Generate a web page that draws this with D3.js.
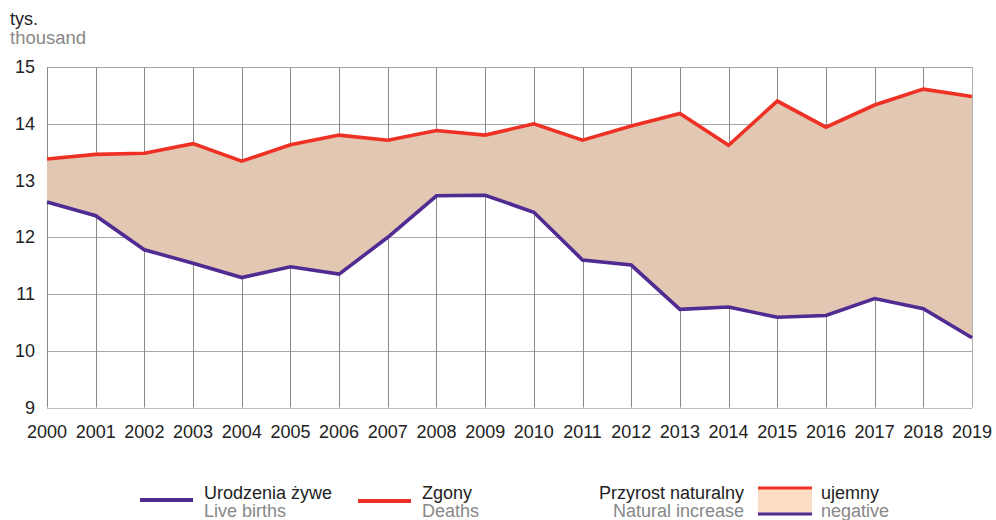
<!DOCTYPE html>
<html>
<head>
<meta charset="utf-8">
<script src="https://cdn.jsdelivr.net/npm/d3@7"></script>
<style>
  html, body { margin: 0; padding: 0; background: #fff; }
  svg { display: block; font-family: "Liberation Sans", Arial, sans-serif; }
</style>
</head>
<body>
<svg id="chart" width="996" height="520"></svg>
<script>
// Years on the x axis
const years = [2000, 2001, 2002, 2003, 2004, 2005, 2006, 2007, 2008, 2009,
               2010, 2011, 2012, 2013, 2014, 2015, 2016, 2017, 2018, 2019];
// Live births, thousands
const births = [12.62, 12.38, 11.78, 11.54, 11.29, 11.48, 11.35, 12.00, 12.73, 12.74,
                12.44, 11.60, 11.51, 10.73, 10.77, 10.59, 10.62, 10.92, 10.74, 10.23];
// Deaths, thousands
const deaths = [13.38, 13.46, 13.48, 13.65, 13.34, 13.63, 13.80, 13.71, 13.88, 13.80,
                14.00, 13.71, 13.96, 14.18, 13.62, 14.40, 13.94, 14.33, 14.61, 14.48];
// Y axis ticks
const yTicks = [9, 10, 11, 12, 13, 14, 15];

const svg = d3.select("#chart");
const plotL = 47, plotR = 972, plotT = 67, plotB = 407.5;

const x = d3.scaleLinear().domain([2000, 2019]).range([plotL, plotR]);
const y = d3.scaleLinear().domain([9, 15]).range([plotB, plotT]);

const purple = "#4f2b92", red = "#ee3124", fillCol = "#e2c7b2";

// Horizontal gridlines
svg.append("g").selectAll("line").data(yTicks).join("line")
  .attr("x1", plotL).attr("x2", plotR)
  .attr("y1", d => Math.round(y(d)) + 0.5).attr("y2", d => Math.round(y(d)) + 0.5)
  .attr("stroke", d => d === 9 ? "#bdbdbd" : "#a9a9a9").attr("stroke-width", 1);

// Vertical gridlines
svg.append("g").selectAll("line").data(years).join("line")
  .attr("x1", d => Math.round(x(d)) + 0.5).attr("x2", d => Math.round(x(d)) + 0.5)
  .attr("y1", plotT).attr("y2", plotB)
  .attr("stroke", d => d === 2019 ? "#b0b0b0" : "#8a8a8a").attr("stroke-width", 1);

// Shaded band between deaths and births (negative natural increase)
const area = d3.area()
  .x((d, i) => x(years[i]))
  .y0((d, i) => y(births[i]))
  .y1((d, i) => y(deaths[i]));
svg.append("path").datum(births).attr("d", area).attr("fill", fillCol);

const line = arr => d3.line().x((d, i) => x(years[i])).y(d => y(d))(arr);

svg.append("path").attr("d", line(deaths))
  .attr("fill", "none").attr("stroke", red).attr("stroke-width", 3.6)
  .attr("stroke-linejoin", "miter");
svg.append("path").attr("d", line(births))
  .attr("fill", "none").attr("stroke", purple).attr("stroke-width", 3.6)
  .attr("stroke-linejoin", "miter");

// Y tick labels
svg.append("g").selectAll("text").data(yTicks).join("text")
  .attr("x", 35).attr("y", d => y(d) + 6)
  .attr("text-anchor", "end").attr("font-size", 18).attr("fill", "#222")
  .text(d => d);

// X tick labels
svg.append("g").selectAll("text").data(years).join("text")
  .attr("x", d => x(d)).attr("y", 438)
  .attr("text-anchor", "middle").attr("font-size", 18).attr("fill", "#222")
  .text(d => d);

// Unit label
svg.append("text").attr("x", 10).attr("y", 25).attr("font-size", 18).attr("fill", "#222").text("tys.");
svg.append("text").attr("x", 10).attr("y", 44).attr("font-size", 18.5).attr("fill", "#888").text("thousand");

// Legend
const lg = svg.append("g").attr("font-size", 18);
lg.append("line").attr("x1", 140).attr("x2", 193).attr("y1", 500).attr("y2", 500)
  .attr("stroke", purple).attr("stroke-width", 4);
lg.append("text").attr("x", 204).attr("y", 499).attr("fill", "#222").text("Urodzenia żywe");
lg.append("text").attr("x", 204).attr("y", 517).attr("fill", "#888").text("Live births");

lg.append("line").attr("x1", 358).attr("x2", 411).attr("y1", 501).attr("y2", 501)
  .attr("stroke", red).attr("stroke-width", 4);
lg.append("text").attr("x", 422).attr("y", 499).attr("fill", "#222").text("Zgony");
lg.append("text").attr("x", 422).attr("y", 517).attr("fill", "#888").text("Deaths");

lg.append("text").attr("x", 744).attr("y", 499).attr("text-anchor", "end").attr("fill", "#222").text("Przyrost naturalny");
lg.append("text").attr("x", 744).attr("y", 517).attr("text-anchor", "end").attr("fill", "#888").text("Natural increase");

lg.append("rect").attr("x", 758).attr("y", 487).attr("width", 54).attr("height", 27).attr("fill", "#fddcc4");
lg.append("line").attr("x1", 758).attr("x2", 812).attr("y1", 488).attr("y2", 488)
  .attr("stroke", red).attr("stroke-width", 3);
lg.append("line").attr("x1", 758).attr("x2", 812).attr("y1", 514).attr("y2", 514)
  .attr("stroke", purple).attr("stroke-width", 3);
lg.append("text").attr("x", 821).attr("y", 499).attr("fill", "#222").text("ujemny");
lg.append("text").attr("x", 821).attr("y", 517).attr("fill", "#888").text("negative");
</script>
</body>
</html>
